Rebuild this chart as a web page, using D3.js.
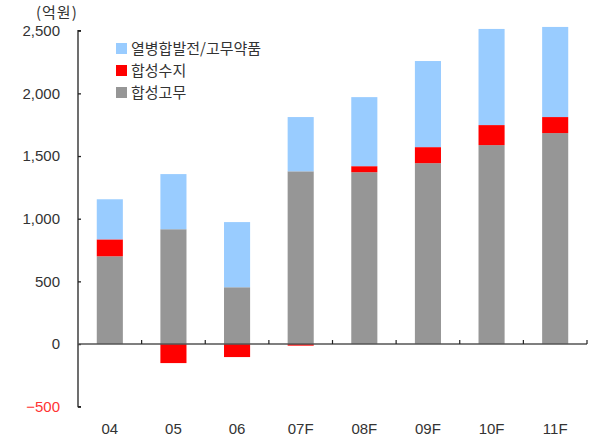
<!DOCTYPE html>
<html>
<head>
<meta charset="utf-8">
<script src="https://cdn.jsdelivr.net/npm/d3@7"></script>
<style>
  body { margin: 0; background: #fff; }
  svg { display: block; }
  .num { font-family: "Liberation Sans", Arial, sans-serif; font-size: 15px; fill: #333; }
  .kor { font-family: "Noto Sans CJK KR", sans-serif; font-size: 15px; fill: #333; }
</style>
</head>
<body>
<svg id="chart" width="593" height="441"></svg>
<script>
// categories and series values (억원)
const categories = ['04', '05', '06', '07F', '08F', '09F', '10F', '11F'];
const rubber = [700, 916, 453, 1378, 1371, 1443, 1587, 1683];     // 합성고무
const resin = [135, -152, -104, -13, 48, 128, 160, 128];          // 합성수지
const others = [320, 440, 520, 433, 551, 687, 767, 719];          // 열병합발전/고무약품
const yTicks = [-500, 0, 500, 1000, 1500, 2000, 2500];

const seriesKeys = ['rubber', 'resin', 'others'];
const seriesNames = { rubber: '합성고무', resin: '합성수지', others: '열병합발전/고무약품' };
const colors = { rubber: '#969696', resin: '#ff0000', others: '#99ccff' };

const rows = categories.map((c, i) => ({
    cat: c,
    rubber: rubber[i],
    resin: resin[i],
    others: others[i]
}));

const svg = d3.select('#chart');
const plotLeft = 78, plotRight = 587, plotTop = 30.7, plotBottom = 406.7;

const x = d3.scaleBand().domain(categories).range([plotLeft, plotRight]).paddingInner(0.59).paddingOuter(0.295);
const y = d3.scaleLinear().domain([-500, 2500]).range([plotBottom, plotTop]);

const stacked = d3.stack().keys(seriesKeys).offset(d3.stackOffsetDiverging)(rows);

// bars
svg.append('g')
    .selectAll('g')
    .data(stacked)
    .join('g')
    .attr('fill', d => colors[d.key])
    .selectAll('rect')
    .data(d => d)
    .join('rect')
    .attr('x', d => x(d.data.cat))
    .attr('width', x.bandwidth())
    .attr('y', d => y(Math.max(d[0], d[1])))
    .attr('height', d => Math.abs(y(d[0]) - y(d[1])));

// y axis
const yAxis = svg.append('g')
    .attr('transform', `translate(${plotLeft},0)`)
    .call(d3.axisRight(y).tickValues(yTicks).tickSize(3).tickFormat(''));
yAxis.select('.domain').attr('d', `M3,${plotTop}H0V${plotBottom}H3`).attr('stroke', '#222').attr('stroke-width', 1.3);
yAxis.selectAll('.tick line').attr('stroke', '#222').attr('stroke-width', 1.3);

svg.append('g')
    .selectAll('text')
    .data(yTicks)
    .join('text')
    .attr('class', 'num')
    .attr('x', 60)
    .attr('y', d => y(d))
    .attr('dy', '0.36em')
    .attr('text-anchor', 'end')
    .style('fill', d => d < 0 ? '#ff3333' : '#333')
    .text(d => d3.format(',')(d));

// zero line with ticks between categories
const xTickPos = categories.map(c => x(c) + x.bandwidth() + x.step() * 0.295);
svg.append('line')
    .attr('x1', plotLeft).attr('x2', plotRight)
    .attr('y1', y(0)).attr('y2', y(0))
    .attr('stroke', '#555').attr('stroke-width', 1.5);
svg.append('g')
    .selectAll('line')
    .data(xTickPos)
    .join('line')
    .attr('x1', d => d).attr('x2', d => d)
    .attr('y1', y(0)).attr('y2', y(0) - 4)
    .attr('stroke', '#222').attr('stroke-width', 1.2);

// category labels
svg.append('g')
    .selectAll('text')
    .data(categories)
    .join('text')
    .attr('class', 'num')
    .attr('x', d => x(d) + x.bandwidth() / 2)
    .attr('y', 434)
    .attr('text-anchor', 'middle')
    .text(d => d);

// unit label
svg.append('text')
    .attr('class', 'kor')
    .attr('x', 36)
    .attr('y', 18)
    .attr('letter-spacing', 1)
    .text('(억원)');

// legend
const legendKeys = ['others', 'resin', 'rubber'];
const legend = svg.append('g')
    .selectAll('g')
    .data(legendKeys)
    .join('g')
    .attr('transform', (d, i) => `translate(116,${43 + i * 22})`);
legend.append('rect')
    .attr('width', 11).attr('height', 11)
    .attr('fill', d => colors[d]);
legend.append('text')
    .attr('class', 'kor')
    .attr('x', 15)
    .attr('y', 5.5)
    .attr('dy', '0.35em')
    .text(d => seriesNames[d]);
</script>
</body>
</html>
